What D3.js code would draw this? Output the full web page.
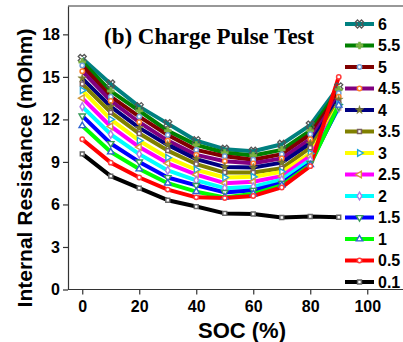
<!DOCTYPE html>
<html>
<head>
<meta charset="utf-8">
<script src="https://cdn.jsdelivr.net/npm/d3@7/dist/d3.min.js"></script>
<style>
  html, body { margin: 0; padding: 0; background: #fff; }
  svg { display: block; }
</style>
</head>
<body>
<svg id="chart" width="403" height="342"></svg>
<script>
// State of charge sample points (%)
const soc = [0, 10, 20, 30, 40, 50, 60, 70, 80, 90];

// Pulse current labels, in legend order
const seriesNames = ["6", "5.5", "5", "4.5", "4", "3.5", "3", "2.5", "2", "1.5", "1", "0.5", "0.1"];

// Internal resistance (mOhm) per pulse current
const r6   = [16.3, 14.5, 12.9, 11.7, 10.5, 9.9, 9.75, 10.25, 11.6, 14.3];
const r5_5 = [16.05, 14.0, 12.6, 11.2, 10.2, 9.65, 9.45, 9.85, 11.2, 14.1];
const r5   = [15.8, 13.6, 12.2, 10.9, 9.85, 9.4, 9.15, 9.55, 10.95, 13.85];
const r4_5 = [15.4, 13.3, 11.8, 10.5, 9.5, 9.05, 8.9, 9.25, 10.6, 13.6];
const r4   = [14.9, 12.9, 11.4, 10.2, 9.2, 8.65, 8.6, 8.95, 10.3, 13.4];
const r3_5 = [14.5, 12.5, 11.0, 9.8, 8.85, 8.25, 8.25, 8.55, 10.0, 13.2];
const r3   = [14.05, 12.0, 10.5, 9.3, 8.45, 7.9, 7.95, 8.3, 9.6, 13.05];
const r2_5 = [13.5, 11.5, 10.05, 8.9, 8.1, 7.5, 7.6, 8.0, 9.4, 12.9];
const r2   = [12.9, 10.95, 9.55, 8.4, 7.7, 7.15, 7.25, 7.75, 9.15, 12.8];
const r1_5 = [12.25, 10.3, 9.0, 7.9, 7.35, 6.85, 7.0, 7.5, 8.9, 12.9];
const r1   = [11.55, 9.7, 8.5, 7.5, 6.9, 6.5, 6.75, 7.35, 8.8, 13.0];
const r0_5 = [10.6, 8.95, 7.9, 7.05, 6.5, 6.45, 6.6, 7.2, 8.7, 15.0];
const r0_1 = [9.57, 8.0, 7.15, 6.3, 5.85, 5.37, 5.33, 5.08, 5.15, 5.1];

// Axis ticks
const xTicks = [0, 20, 40, 60, 80, 100];
const yTicks = [0, 3, 6, 9, 12, 15, 18];

const seriesValues = [r6, r5_5, r5, r4_5, r4, r3_5, r3, r2_5, r2, r1_5, r1, r0_5, r0_1];

// Line colour and marker style per series
const styles = [
  { line: "#008080", sym: "x",     mk: "#555555" },
  { line: "#008000", sym: "plus",  mk: "#7cb342" },
  { line: "#800000", sym: "circle",mk: "#6f9fd8" },
  { line: "#800080", sym: "circle",mk: "#ff7f27" },
  { line: "#000080", sym: "star",  mk: "#7a7a2a" },
  { line: "#808000", sym: "square",mk: "#7a5f5f" },
  { line: "#ffff00", sym: "triR",  mk: "#1ea8dc" },
  { line: "#ff00ff", sym: "triL",  mk: "#d49a3c" },
  { line: "#00ffff", sym: "diamond", mk: "#b07ee6" },
  { line: "#0000ff", sym: "triD",  mk: "#3a9a5a" },
  { line: "#00ff00", sym: "triU",  mk: "#2f64d0" },
  { line: "#ff0000", sym: "circle",mk: "#ff3b3b" },
  { line: "#000000", sym: "square",mk: "#666666" }
];

const series = seriesNames.map((name, i) => ({
  name,
  style: styles[i],
  points: soc.map((s, j) => ({ x: s, y: seriesValues[i][j] }))
}));

const svg = d3.select("#chart");

const x = d3.scaleLinear().domain([-5, 115]).range([68, 410]);
const y = d3.scaleLinear().domain([0, 20]).range([289.5, 6]);

// Frame: top border and axes
svg.append("line")
  .attr("x1", x(-5)).attr("x2", 403)
  .attr("y1", y(20)).attr("y2", y(20))
  .attr("stroke", "#333").attr("stroke-width", 1.2);

const xAxis = d3.axisBottom(x).tickValues(xTicks).tickSize(5).tickPadding(6).tickSizeOuter(0);
const yAxis = d3.axisLeft(y).tickValues(yTicks).tickSize(5).tickPadding(3).tickSizeOuter(0);

const gx = svg.append("g").attr("transform", `translate(0,${y(0)})`).call(xAxis);
const gy = svg.append("g").attr("transform", `translate(${x(-5)},0)`).call(yAxis);

[gx, gy].forEach(g => {
  g.select(".domain").attr("stroke", "#333").attr("stroke-width", 1.2);
  g.selectAll(".tick line").attr("stroke", "#333").attr("stroke-width", 1.2);
  g.selectAll(".tick text")
    .attr("fill", "#000")
    .style("font-family", "Arial, 'Liberation Sans', sans-serif")
    .style("font-weight", "bold")
    .style("font-size", "16px");
});
gx.select(".domain").attr("d", `M${x(-5)},0H403`);

// Axis titles
svg.append("text")
  .attr("x", 242).attr("y", 338)
  .attr("text-anchor", "middle")
  .style("font-family", "Arial, 'Liberation Sans', sans-serif")
  .style("font-weight", "bold")
  .style("font-size", "22px")
  .text("SOC (%)");

svg.append("text")
  .attr("transform", `translate(32,168) rotate(-90)`)
  .attr("text-anchor", "middle")
  .style("font-family", "Arial, 'Liberation Sans', sans-serif")
  .style("font-weight", "bold")
  .style("font-size", "21px")
  .text("Internal Resistance (mOhm)");

// Chart title
svg.append("text")
  .attr("x", 104).attr("y", 44)
  .style("font-family", "'Times New Roman', 'Liberation Serif', serif")
  .style("font-weight", "bold")
  .style("font-size", "23px")
  .text("(b) Charge Pulse Test");

// Marker shapes
function markerPath(sym) {
  switch (sym) {
    case "x":       return { d: d3.symbol(d3.symbolCross, 40)(), rot: 45, fill: "none", sw: 1.3 };
    case "plus":    return { d: d3.symbol(d3.symbolCross, 28)(), rot: 0, fill: "solid", sw: 0.4 };
    case "circle":  return { d: d3.symbol(d3.symbolCircle, 15)(), rot: 0, fill: "#fff", sw: 1.5 };
    case "star":    return { d: d3.symbol(d3.symbolStar, 24)(), rot: 0, fill: "solid", sw: 0.4 };
    case "square":  return { d: d3.symbol(d3.symbolSquare, 15)(), rot: 0, fill: "#fff", sw: 1.5 };
    case "triR":    return { d: d3.symbol(d3.symbolTriangle, 18)(), rot: 90, fill: "#fff", sw: 1.4 };
    case "triL":    return { d: d3.symbol(d3.symbolTriangle, 18)(), rot: -90, fill: "#fff", sw: 1.4 };
    case "triD":    return { d: d3.symbol(d3.symbolTriangle, 18)(), rot: 180, fill: "#fff", sw: 1.4 };
    case "triU":    return { d: d3.symbol(d3.symbolTriangle, 18)(), rot: 0, fill: "#fff", sw: 1.4 };
    case "diamond": return { d: d3.symbol(d3.symbolDiamond, 18)(), rot: 0, fill: "#fff", sw: 1.4 };
  }
}

function drawMarker(g, style, cx, cy) {
  const m = markerPath(style.sym);
  g.append("path")
    .attr("d", m.d)
    .attr("transform", `translate(${cx},${cy}) rotate(${m.rot})`)
    .attr("fill", m.fill === "solid" ? style.mk : m.fill)
    .attr("stroke", style.mk)
    .attr("stroke-width", m.sw);
}

const line = d3.line().x(d => x(d.x)).y(d => y(d.y));

// Lines
const gLines = svg.append("g");
series.forEach(s => {
  gLines.append("path")
    .datum(s.points)
    .attr("d", line)
    .attr("fill", "none")
    .attr("stroke", s.style.line)
    .attr("stroke-width", 4)
    .attr("stroke-linejoin", "round");
});

// Markers
const gMarks = svg.append("g");
series.forEach(s => {
  s.points.forEach(p => drawMarker(gMarks, s.style, x(p.x), y(p.y)));
});

// Legend
const legend = svg.append("g");
const legY = d3.scaleLinear().domain([0, seriesNames.length - 1]).range([24, 282]);
series.forEach((s, i) => {
  const ly = legY(i);
  legend.append("line")
    .attr("x1", 345).attr("x2", 374)
    .attr("y1", ly).attr("y2", ly)
    .attr("stroke", s.style.line).attr("stroke-width", 4);
  drawMarker(legend, s.style, 359.5, ly);
  legend.append("text")
    .attr("x", 378).attr("y", ly)
    .attr("dy", "0.36em")
    .style("font-family", "Arial, 'Liberation Sans', sans-serif")
    .style("font-weight", "bold")
    .style("font-size", "16px")
    .text(s.name);
});
</script>
</body>
</html>
